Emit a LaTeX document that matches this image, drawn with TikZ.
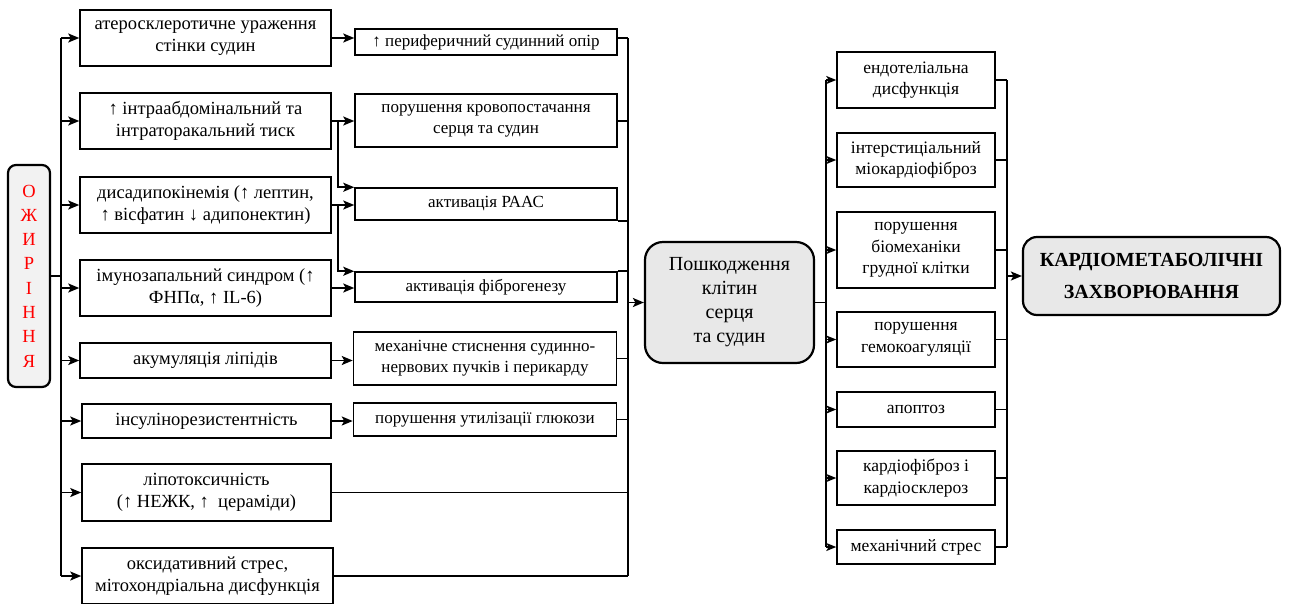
\documentclass[tikz,border=0pt]{standalone}
\usepackage{fontspec}
\setmainfont{Liberation Serif}
\usetikzlibrary{arrows.meta,calc}
\definecolor{boxgray}{HTML}{F2F2F2}
\definecolor{boxgrayb}{HTML}{E8E8E8}
\begin{document}
\begin{tikzpicture}[x=1pt,y=-1pt,
  bx/.style={draw, line width=1.5pt, inner sep=0pt, align=center, fill=white},
  lfont/.style={font=\fontsize{18.5}{21.5}\selectfont},
  mfont/.style={font=\fontsize{17}{21}\selectfont},
  rfont/.style={font=\fontsize{17.5}{21.5}\selectfont},
  rbx/.style={draw, line width=2.2pt, rounded corners=14pt, inner sep=0pt, align=center},
  conn/.style={line width=1.8pt},
  arr/.style={line width=1.8pt, -{Stealth[length=11pt,width=9pt,inset=2.5pt]}},
  sarr/.style={line width=1.6pt, -{Stealth[length=10pt,width=8pt,inset=2.5pt]}}
]
\useasboundingbox (0,0) rectangle (1289,603);

% left rounded box
\node[rbx, fill=boxgray, minimum width=42, minimum height=222, rounded corners=8pt,
      text=red, font=\fontsize{18.5}{24.3}\selectfont] (O) at (29,276)
  {О\\Ж\\И\\Р\\І\\Н\\Н\\Я};

% left column
\node[bx, lfont, minimum width=251, minimum height=56] (L1) at (205.5,38) {атеросклеротичне ураження\\стінки судин};
\node[bx, lfont, minimum width=251, minimum height=56] (L2) at (205.5,121) {↑ інтраабдомінальний та\\інтраторакальний тиск};
\node[bx, lfont, minimum width=251, minimum height=56] (L3) at (205.5,205) {дисадипокінемія (↑ лептин,\\↑ вісфатин ↓ адипонектин)};
\node[bx, lfont, minimum width=251, minimum height=56] (L4) at (205.5,288) {імунозапальний синдром (↑\\ФНПα, ↑ IL-6)};
\node[bx, lfont, minimum width=251, minimum height=35] (L5) at (205.5,360.5) {акумуляція ліпідів};
\node[bx, lfont, minimum width=249, minimum height=34] (L6) at (206.5,421) {інсулінорезистентність};
\node[bx, lfont, minimum width=249, minimum height=57] (L7) at (206.5,492.5) {ліпотоксичність\\(↑ НЕЖК, ↑~ цераміди)};
\node[bx, lfont, minimum width=251, minimum height=56] (L8) at (207.5,576) {оксидативний стрес,\\мітохондріальна дисфункція};

% middle column
\node[bx, mfont, minimum width=262, minimum height=26] (M1) at (486,42) {↑ периферичний судинний опір};
\node[bx, mfont, minimum width=262, minimum height=53] (M2) at (486,120.5) {порушення кровопостачання\\серця та судин};
\node[bx, mfont, minimum width=262, minimum height=32] (M3) at (486,204) {активація РААС};
\node[bx, mfont, minimum width=262, minimum height=30] (M4) at (486,287) {активація фіброгенезу};
\node[bx, mfont, minimum width=263, minimum height=53] (M5) at (485,358.5) {механічне стиснення судинно-\\нервових пучків і перикарду};
\node[bx, mfont, minimum width=263, minimum height=33] (M6) at (485,419.5) {порушення утилізації глюкози};

% central box
\node[rbx, fill=boxgrayb, minimum width=169, minimum height=121, rounded corners=18pt,
      font=\fontsize{20}{24}\selectfont] (P) at (729.5,302.5)
  {Пошкодження\\клітин\\серця\\та судин};

% right column
\node[bx, rfont, minimum width=158, minimum height=56] (R1) at (916,80) {ендотеліальна\\дисфункція};
\node[bx, rfont, minimum width=158, minimum height=54] (R2) at (916,160) {інтерстиціальний\\міокардіофіброз};
\node[bx, rfont, minimum width=158, minimum height=76] (R3) at (916,250) {порушення\\біомеханіки\\грудної клітки};
\node[bx, rfont, minimum width=158, minimum height=55] (R4) at (916,339.5) {порушення\\гемокоагуляції};
\node[bx, rfont, minimum width=158, minimum height=35] (R5) at (916,409.5) {апоптоз};
\node[bx, rfont, minimum width=158, minimum height=54] (R6) at (916,478) {кардіофіброз і\\кардіосклероз};
\node[bx, rfont, minimum width=158, minimum height=34] (R7) at (916,547) {механічний стрес};

% final box
\node[rbx, fill=boxgrayb, minimum width=257, minimum height=78, rounded corners=14pt,
      font=\bfseries\fontsize{20}{32}\selectfont] (K) at (1151.5,276)
  {КАРДІОМЕТАБОЛІЧНІ\\ЗАХВОРЮВАННЯ};

% bus coordinates
\coordinate (lt) at (61,38);
\coordinate (lb) at (61,576);
\coordinate (mt) at (628,38);
\coordinate (mb) at (628,576);
\coordinate (rt) at (826,80);
\coordinate (rb) at (826,547);
\coordinate (ot) at (1007,80);
\coordinate (ob) at (1007,547);

% left bus
\draw[conn] (O.east) -- (O.east -| lt);
\draw[conn] (lt) -- (lb);
\foreach \n in {L1,L2,L3,L4,L5,L6,L7,L8}
  \draw[arr] (\n.west -| lt) -- (\n.west);

% left -> middle
\draw[arr] (L1.east) -- (L1.east -| M1.west);
\draw[arr] (L2.east) -- (L2.east -| M2.west);
\draw[arr] ($(L2.east)+(6,0)$) |- (M3.north west);
\draw[arr] (L3.east) -- (L3.east -| M3.west);
\draw[arr] ($(L3.east)+(6,0)$) |- (M4.north west);
\draw[arr] (L4.east) -- (L4.east -| M4.west);
\draw[arr] (L5.east) -- (L5.east -| M5.west);
\draw[arr] (L6.east) -- (L6.east -| M6.west);

% middle -> bus
\draw[conn] (L1.east -| M1.east) -- (mt);
\draw[conn] (L2.east -| M2.east) -- (L2.east -| mt);
\draw[conn] (M3.south east) -- (M3.south east -| mt);
\draw[conn] (M4.north east) -- (M4.north east -| mt);
\draw[conn] (M5.east) -- (M5.east -| mt);
\draw[conn] (M6.east) -- (M6.east -| mt);
\draw[conn] (L7.east) -- (L7.east -| mt);
\draw[conn] (L8.east) -- (mb);
\draw[conn] (mt) -- (mb);
\draw[arr] (P.west -| mt) -- (P.west);

% P -> right column
\draw[conn] (P.east) -- (P.east -| rt);
\draw[conn] (rt) -- (rb);
\foreach \n in {R1,R2,R3,R4,R5,R6,R7}
  \draw[sarr] (\n.west -| rt) -- (\n.west);

% right column -> K
\foreach \n in {R1,R2,R3,R4,R5,R6,R7}
  \draw[conn] (\n.east) -- (\n.east -| ot);
\draw[conn] (ot) -- (ob);
\draw[arr] (K.west -| ot) -- (K.west);
\end{tikzpicture}
\end{document}
